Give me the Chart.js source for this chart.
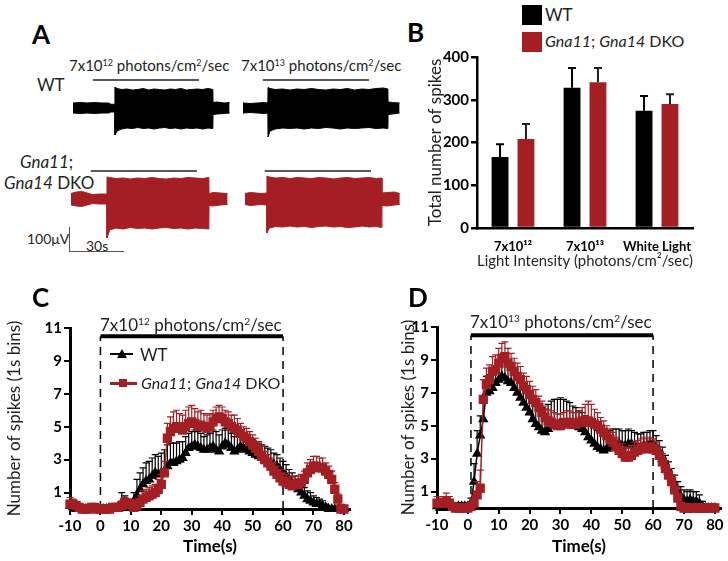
<!DOCTYPE html>
<html>
<head>
<meta charset="utf-8">
<script src="https://cdn.jsdelivr.net/npm/chart.js@4.4.0/dist/chart.umd.min.js"></script>
<style>
  html, body { margin: 0; padding: 0; background: #fff; }
  #fig { position: relative; width: 728px; height: 561px; overflow: hidden; font-family: Lato, 'Open Sans', sans-serif; color: #231f20; }
  #fig canvas { position: absolute; }
  .t { position: absolute; white-space: nowrap; line-height: 1; }
  .letter { font-weight: bold; font-size: 26px; color: #000; }
  sup { font-size: 0.6em; vertical-align: 0.6em; line-height: 0; }
  .box { position: absolute; }
</style>
</head>
<body>
<div id="fig">
  <!-- panel A -->
  <div class="t letter" style="left:32px;top:21px;">A</div>
  <div class="t" style="left:69px;top:58px;font-size:15px;">7x10<sup>12</sup> photons/cm<sup>2</sup>/sec</div>
  <div class="t" style="left:241px;top:58px;font-size:15px;">7x10<sup>13</sup> photons/cm<sup>2</sup>/sec</div>
  <div class="t" style="left:37px;top:76px;font-size:17px;">WT</div>
  <div class="t" style="left:20px;top:153px;font-size:17px;"><i>Gna11</i>;</div>
  <div class="t" style="left:4px;top:174px;font-size:17px;"><i>Gna14</i> DKO</div>
  <div class="t" style="left:27px;top:232px;font-size:14px;">100μV</div>
  <div class="t" style="left:86px;top:239px;font-size:14px;">30s</div>
  <div class="box" style="left:69px;top:227px;width:54px;height:24px;border-left:1.5px solid #555;border-bottom:1.5px solid #555;"></div>
  <canvas id="wt1" width="160" height="80" style="left:73px;top:74px;"></canvas>
  <canvas id="wt2" width="160" height="80" style="left:243px;top:74px;"></canvas>
  <canvas id="dko1" width="160" height="80" style="left:71px;top:165px;"></canvas>
  <canvas id="dko2" width="160" height="80" style="left:245px;top:165px;"></canvas>

  <!-- panel B -->
  <div class="t letter" style="left:407px;top:19px;">B</div>
  <div class="box" style="left:522px;top:5px;width:20px;height:20px;background:#000;"></div>
  <div class="box" style="left:522px;top:32px;width:20px;height:20px;background:#a31f24;"></div>
  <div class="t" style="left:545px;top:6px;font-size:17px;">WT</div>
  <div class="t" style="left:545px;top:33px;font-size:16px;"><i>Gna11</i>; <i>Gna14</i> DKO</div>
  <canvas id="chartB" width="308" height="270" style="left:420px;top:0px;"></canvas>

  <!-- panel C -->
  <canvas id="chartC" width="360" height="261" style="left:0px;top:300px;"></canvas>
  <div class="t letter" style="left:32px;top:284px;">C</div>
  <div class="t" style="left:100px;top:316px;font-size:17px;">7x10<sup>12</sup> photons/cm<sup>2</sup>/sec</div>
  <div class="box" style="left:110px;top:353px;width:23px;height:2px;background:#000;"></div>
  <div class="box" style="left:117px;top:349px;width:0;height:0;border-left:5px solid transparent;border-right:5px solid transparent;border-bottom:9px solid #000;"></div>
  <div class="t" style="left:140px;top:346px;font-size:17px;">WT</div>
  <div class="box" style="left:110px;top:382px;width:27px;height:2.5px;background:#a31f24;"></div>
  <div class="box" style="left:119px;top:379px;width:8px;height:8px;background:#a31f24;"></div>
  <div class="t" style="left:141px;top:375px;font-size:16px;"><i>Gna11</i>; <i>Gna14</i> DKO</div>

  <!-- panel D -->
  <canvas id="chartD" width="334" height="261" style="left:394px;top:300px;"></canvas>
  <div class="t letter" style="left:408px;top:284px;">D</div>
  <div class="t" style="left:470px;top:313px;font-size:17px;">7x10<sup>13</sup> photons/cm<sup>2</sup>/sec</div>
</div>

<script>
const RED = '#a31f24';
const INK = '#231f20';

// ---- panel A: recording envelopes (time in s from trace start, amplitude in µV) ----
const lightOn = 11;
const lightOff = 70;
const lightLevel = 112;

const wt1Time = [0, 4, 8, 12, 16, 20, 21, 23.2, 23.3, 24.5, 27, 30, 33, 36, 39, 42, 45, 48, 51, 54, 57, 60, 63, 66, 69, 72, 75, 77.7, 77.8, 80, 84, 87];
const wt1Top = [20, 22, 20, 22, 20, 20, 15, 15, 84, 78, 74, 76, 72, 74, 78, 72, 76, 74, 72, 76, 74, 78, 72, 74, 76, 74, 78, 74, 22, 24, 20, 22];
const wt1Bot = [-20, -22, -20, -22, -20, -20, -16, -16, -108, -92, -84, -80, -82, -78, -82, -80, -84, -80, -78, -82, -80, -84, -80, -82, -80, -84, -80, -82, -26, -24, -22, -20];

const wt2Time = [0, 4, 8, 12, 13.8, 13.9, 15, 18, 22, 26, 30, 34, 38, 42, 46, 50, 54, 58, 62, 66, 70, 74, 78, 80.5, 80.6, 83, 87];
const wt2Top = [20, 18, 20, 22, 20, 82, 78, 74, 76, 72, 76, 74, 78, 74, 72, 76, 74, 78, 72, 76, 74, 78, 80, 76, 24, 22, 20];
const wt2Bot = [-20, -18, -20, -22, -20, -116, -92, -84, -80, -82, -80, -84, -80, -82, -78, -80, -84, -80, -82, -80, -78, -82, -80, -82, -26, -24, -20];

const dko1Time = [0, 3, 6, 9, 12, 16, 19.9, 20, 21.5, 25, 29, 33, 37, 41, 45, 49, 53, 57, 61, 65, 69, 73, 76.6, 76.7, 79, 83, 87];
const dko1Top = [22, 28, 30, 24, 18, 20, 20, 88, 86, 82, 84, 80, 84, 82, 86, 82, 80, 84, 82, 86, 84, 82, 86, 22, 26, 24, 22];
const dko1Bot = [-24, -28, -30, -24, -18, -20, -20, -156, -124, -116, -120, -114, -118, -116, -120, -116, -114, -118, -116, -120, -116, -118, -120, -26, -28, -24, -22];

const dko2Time = [0, 3, 6, 9, 12.1, 12.2, 13.5, 17, 21, 25, 29, 33, 37, 41, 45, 49, 53, 57, 61, 65, 69, 73, 76, 76.1, 79, 83, 86];
const dko2Top = [22, 26, 24, 22, 24, 92, 88, 84, 86, 82, 86, 84, 82, 86, 84, 80, 84, 86, 82, 84, 86, 82, 84, 24, 26, 28, 22];
const dko2Bot = [-22, -26, -24, -22, -24, -136, -116, -110, -112, -108, -112, -110, -114, -110, -108, -112, -110, -114, -112, -108, -112, -110, -114, -26, -28, -24, -22];

// ---- panel B: total spikes ----
const intensityLabels = ['7x10¹²', '7x10¹³', 'White Light'];
const wtTotal = [166, 328, 274];
const wtTotalErr = [30, 46, 35];
const dkoTotal = [208, 341, 290];
const dkoTotalErr = [35, 33, 23];

// ---- panels C and D: spikes per 1s bin ----
const timeBins = [-10, -9, -8, -7, -6, -5, -4, -3, -2, -1,
  0, 1, 2, 3, 4, 5, 6, 7, 8, 9,
  10, 11, 12, 13, 14, 15, 16, 17, 18, 19,
  20, 21, 22, 23, 24, 25, 26, 27, 28, 29,
  30, 31, 32, 33, 34, 35, 36, 37, 38, 39,
  40, 41, 42, 43, 44, 45, 46, 47, 48, 49,
  50, 51, 52, 53, 54, 55, 56, 57, 58, 59,
  60, 61, 62, 63, 64, 65, 66, 67, 68, 69,
  70, 71, 72, 73, 74, 75, 76, 77, 78, 79, 80];
const timeTicks = [-10, 0, 10, 20, 30, 40, 50, 60, 70, 80];
const spikeTicks = [1, 3, 5, 7, 9, 11];

const wtC = [0.2, 0.1, 0, 0, 0, 0, 0, 0, 0, 0,
  0, 0, 0, 0, 0, 0, 0.1, 0.3, 0.3, 0.2,
  0.2, 0.5, 0.8, 1.2, 1.5, 1.7, 1.8, 2.0, 2.2, 2.1,
  2.2, 2.3, 2.6, 2.8, 2.8, 2.9, 3.0, 3.1, 3.4, 3.7,
  3.8, 3.9, 3.8, 3.7, 3.6, 3.6, 3.7, 3.8, 3.6, 3.5,
  3.8, 4.0, 3.9, 3.7, 3.5, 3.6, 3.8, 3.7, 3.6, 3.5,
  3.4, 3.3, 3.2, 3.1, 3.0, 2.9, 2.8, 2.7, 2.6, 2.4,
  2.2, 2.0, 1.8, 1.6, 1.4, 1.2, 1.0, 0.8, 0.6, 0.5,
  0.4, 0.3, 0.3, 0.2, 0.1, 0, 0, 0, 0, 0, 0];
const wtCErr = [0.3, 0.1, 0, 0, 0, 0, 0, 0, 0, 0,
  0, 0, 0, 0, 0, 0, 0.2, 0.7, 0.5, 0.2,
  0.2, 0.5, 1.0, 1.0, 1.0, 1.1, 1.1, 1.1, 1.1, 1.1,
  1.2, 1.3, 1.3, 1.2, 1.2, 1.1, 1.1, 1.0, 1.0, 0.9,
  0.9, 0.9, 0.9, 0.9, 0.8, 0.9, 0.9, 1.0, 1.1, 1.0,
  1.0, 0.9, 0.9, 0.9, 0.9, 0.9, 0.8, 0.8, 0.8, 0.8,
  0.8, 0.8, 0.8, 0.8, 0.8, 0.8, 0.8, 0.7, 0.7, 0.7,
  0.7, 0.7, 0.6, 0.6, 0.6, 0.6, 0.5, 0.5, 0.5, 0.5,
  0.4, 0.4, 0.3, 0.3, 0.2, 0.1, 0.1, 0, 0, 0, 0];
const dkoC = [0.3, 0.3, 0.2, 0.1, 0, 0, 0, 0.1, 0.1, 0,
  0, 0, 0, 0, 0.1, 0.1, 0.1, 0.2, 0.4, 0.3,
  0.3, 0.1, 0.2, 0.4, 0.6, 0.7, 0.8, 0.9, 1.0, 1.2,
  1.5, 2.2, 4.3, 4.7, 4.9, 5.0, 4.9, 4.8, 5.0, 5.2,
  5.3, 5.2, 5.0, 5.1, 5.0, 4.9, 5.0, 5.3, 5.5, 5.6,
  5.5, 5.3, 5.2, 5.0, 4.9, 4.8, 4.6, 4.4, 4.3, 4.1,
  3.9, 3.7, 3.5, 3.2, 3.0, 2.8, 2.6, 2.3, 2.1, 1.9,
  1.7, 1.6, 1.5, 1.4, 1.5, 1.5, 1.6, 1.8, 2.2, 2.4,
  2.6, 2.6, 2.5, 2.5, 2.3, 2.1, 1.8, 1.2, 0.6, 0, 0];
const dkoCErr = [0.4, 0.3, 0.2, 0.1, 0, 0, 0, 0.1, 0.1, 0,
  0, 0, 0, 0, 0.1, 0.1, 0.2, 0.3, 0.3, 0.3,
  0.3, 0.2, 0.3, 0.4, 0.5, 0.5, 0.5, 0.5, 0.5, 0.6,
  0.6, 0.7, 0.9, 0.9, 1.0, 1.0, 0.9, 0.9, 1.0, 1.0,
  1.0, 0.9, 0.9, 0.9, 0.8, 0.8, 0.8, 0.7, 0.7, 0.7,
  0.7, 0.7, 0.7, 0.7, 0.8, 0.7, 0.6, 0.6, 0.6, 0.6,
  0.6, 0.6, 0.6, 0.6, 0.5, 0.5, 0.5, 0.5, 0.5, 0.5,
  0.5, 0.5, 0.5, 0.5, 0.5, 0.5, 0.5, 0.5, 0.6, 0.6,
  0.6, 0.6, 0.6, 0.6, 0.5, 0.5, 0.5, 0.4, 0.3, 0, 0];

const wtD = [0.1, 0, 0, 0, 0, 0, 0, 0.1, 0.1, 0.1,
  0.1, 0.3, 1.6, 3.3, 4.4, 5.4, 7.0, 7.1, 7.3, 7.6,
  7.8, 8.0, 7.9, 7.7, 7.6, 7.3, 7.0, 6.7, 6.4, 6.1,
  5.8, 5.4, 5.1, 4.9, 4.7, 4.6, 4.8, 5.0, 5.1, 5.1,
  5.2, 5.2, 5.1, 5.1, 5.0, 5.0, 4.9, 4.8, 4.6, 4.3,
  4.1, 3.9, 3.7, 3.6, 3.5, 3.6, 3.7, 3.8, 3.8, 3.9,
  3.8, 3.8, 3.9, 3.9, 3.8, 3.7, 3.7, 3.8, 3.8, 3.9,
  3.9, 3.7, 3.4, 3.0, 2.6, 2.2, 1.8, 1.4, 1.0, 0.7,
  0.5, 0.4, 0.5, 0.4, 0.4, 0.3, 0.1, 0, 0, 0, 0];
const wtDErr = [0.1, 0, 0, 0, 0, 0, 0, 0.2, 0.2, 0.2,
  0.2, 0.3, 1.1, 1.4, 1.2, 1.2, 1.0, 1.0, 1.0, 1.0,
  1.0, 1.0, 1.0, 1.0, 1.0, 1.0, 1.1, 1.1, 1.1, 1.1,
  1.2, 1.2, 1.3, 1.3, 1.4, 1.4, 1.5, 1.5, 1.5, 1.5,
  1.5, 1.4, 1.4, 1.3, 1.2, 1.1, 1.0, 1.0, 1.0, 1.0,
  1.0, 1.0, 1.0, 1.0, 1.0, 1.0, 1.0, 1.0, 1.0, 0.9,
  0.9, 0.9, 0.9, 0.8, 0.8, 0.8, 0.8, 0.8, 0.8, 0.8,
  0.8, 0.7, 0.7, 0.7, 0.6, 0.6, 0.6, 0.6, 0.6, 0.6,
  0.6, 0.6, 0.6, 0.6, 0.6, 0.5, 0.3, 0, 0, 0, 0];
const dkoD = [0.3, 0.3, 0.3, 0.4, 0.3, 0.1, 0, 0, 0, 0,
  0, 0.1, 0.3, 0.8, 1.2, 6.6, 7.5, 7.8, 8.3, 8.4,
  8.8, 9.1, 9.2, 8.8, 8.6, 8.3, 8.0, 7.8, 7.4, 7.2,
  6.9, 6.6, 6.4, 6.1, 5.8, 5.5, 5.3, 5.2, 5.1, 5.0,
  5.0, 5.1, 5.2, 5.2, 5.1, 5.1, 5.2, 5.3, 5.2, 5.3,
  5.2, 5.1, 5.0, 4.8, 4.6, 4.4, 4.2, 4.0, 3.7, 3.5,
  3.3, 3.1, 3.1, 3.2, 3.4, 3.5, 3.6, 3.7, 3.6, 3.7,
  3.6, 3.5, 3.2, 2.8, 2.4, 2.0, 1.6, 1.1, 0.6, 0.1,
  0, 0, 0, 0, 0, 0, 0, 0, 0, 0, 0];
const dkoDErr = [0.4, 0.4, 0.4, 0.5, 0.4, 0.2, 0, 0, 0, 0,
  0, 0.1, 0.3, 0.8, 1.1, 1.2, 1.0, 0.9, 0.9, 0.9,
  0.9, 0.9, 0.9, 0.9, 0.8, 0.8, 0.8, 0.8, 0.8, 0.8,
  0.8, 0.8, 0.8, 0.7, 0.7, 0.7, 0.7, 0.7, 0.7, 0.7,
  0.7, 0.7, 0.7, 0.7, 0.7, 0.7, 0.7, 0.8, 1.1, 1.2,
  1.1, 0.9, 0.8, 0.7, 0.7, 0.6, 0.6, 0.6, 0.6, 0.6,
  0.6, 0.6, 0.6, 0.6, 0.6, 0.6, 0.6, 0.6, 0.6, 0.6,
  0.6, 0.5, 0.5, 0.5, 0.5, 0.4, 0.4, 0.4, 0.3, 0.2,
  0, 0, 0, 0, 0, 0, 0, 0, 0, 0, 0];

// stimulus windows (s) and the level of the stimulus bar
const stimC = [0, 60];
const stimD = [1, 60];
const stimLevel = 10.5;

Chart.defaults.font.family = "Lato, 'Open Sans', sans-serif";
Chart.defaults.color = INK;

// upward error bars with caps, drawn just under each dataset's marks
const errorBars = {
  id: 'errorBars',
  beforeDatasetDraw(chart, args) {
    const ds = chart.data.datasets[args.index];
    if (!ds.errors) return;
    const meta = args.meta;
    const yScale = chart.scales[meta.yAxisID];
    const ctx = chart.ctx;
    const cap = ds.errorCap || 3.5;
    ctx.save();
    ctx.strokeStyle = ds.errorColor || ds.borderColor;
    ctx.lineWidth = ds.errorWidth || 1.2;
    meta.data.forEach((el, i) => {
      const e = ds.errors[i];
      if (!e) return;
      const raw = ds.data[i];
      const v = typeof raw === 'object' ? raw.y : raw;
      const yTop = yScale.getPixelForValue(v + e);
      ctx.beginPath();
      ctx.moveTo(el.x, el.y);
      ctx.lineTo(el.x, yTop);
      ctx.moveTo(el.x - cap, yTop);
      ctx.lineTo(el.x + cap, yTop);
      ctx.stroke();
    });
    ctx.restore();
  }
};

function traceChart(id, times, top, bot, color) {
  new Chart(document.getElementById(id), {
    type: 'line',
    data: {
      datasets: [
        { data: times.map((t, i) => ({ x: t, y: top[i] })), borderColor: color, backgroundColor: color, borderWidth: 1, pointRadius: 0, fill: '+1' },
        { data: times.map((t, i) => ({ x: t, y: bot[i] })), borderColor: color, borderWidth: 1, pointRadius: 0, fill: false },
        { data: [{ x: lightOn, y: lightLevel }, { x: lightOff, y: lightLevel }], borderColor: INK, borderWidth: 1.5, pointRadius: 0, fill: false }
      ]
    },
    options: {
      responsive: false,
      animation: false,
      layout: { padding: 0 },
      plugins: { legend: { display: false }, tooltip: { enabled: false } },
      scales: {
        x: { type: 'linear', display: false, min: 0, max: 88.9 },
        y: { display: false, min: -184, max: 136 }
      }
    }
  });
}

traceChart('wt1', wt1Time, wt1Top, wt1Bot, '#000');
traceChart('wt2', wt2Time, wt2Top, wt2Bot, '#000');
traceChart('dko1', dko1Time, dko1Top, dko1Bot, RED);
traceChart('dko2', dko2Time, dko2Top, dko2Bot, RED);

new Chart(document.getElementById('chartB'), {
  type: 'bar',
  data: {
    labels: intensityLabels,
    datasets: [
      { label: 'WT', data: wtTotal, errors: wtTotalErr, backgroundColor: '#000', errorColor: '#000', errorWidth: 2, errorCap: 4 },
      { label: 'Gna11; Gna14 DKO', data: dkoTotal, errors: dkoTotalErr, backgroundColor: RED, errorColor: INK, errorWidth: 2, errorCap: 4 }
    ]
  },
  options: {
    responsive: false,
    animation: false,
    layout: { padding: { top: 57, left: 3, right: 35, bottom: 0 } },
    datasets: { bar: { categoryPercentage: 0.72, barPercentage: 0.65 } },
    plugins: { legend: { display: false }, tooltip: { enabled: false } },
    scales: {
      x: {
        grid: { display: false },
        border: { display: true, color: '#000', width: 2.5 },
        ticks: { color: '#000', font: { weight: 'bold', size: 13 }, padding: 3, autoSkip: false, maxRotation: 0, minRotation: 0 },
        title: { display: true, text: 'Light Intensity (photons/cm²/sec)', font: { size: 16 }, color: INK, padding: { top: 0, bottom: 0 } },
        afterFit: s => { s.height = 42; }
      },
      y: {
        min: 0, max: 400,
        ticks: { stepSize: 100, color: '#000', font: { weight: 'bold', size: 15 }, padding: 2 },
        grid: { drawOnChartArea: false, tickLength: 6, color: '#000', lineWidth: 2.5 },
        border: { color: '#000', width: 2.5 },
        title: { display: true, text: 'Total number of spikes', font: { size: 17 }, color: INK, padding: { top: 2, bottom: 0 } },
        afterFit: s => { s.width = 54; }
      }
    }
  },
  plugins: [errorBars]
});

function timeChart(id, wt, wtErr, dko, dkoErr, stim, pad, yWidth, xHeight) {
  new Chart(document.getElementById(id), {
    type: 'line',
    data: {
      datasets: [
        { label: 'Gna11; Gna14 DKO', order: 1, data: timeBins.map((t, i) => ({ x: t, y: dko[i] })), errors: dkoErr,
          borderColor: RED, backgroundColor: RED, borderWidth: 1.5, pointStyle: 'rect', pointRadius: 5.5, errorColor: RED, clip: false },
        { label: 'WT', order: 2, data: timeBins.map((t, i) => ({ x: t, y: wt[i] })), errors: wtErr,
          borderColor: '#000', backgroundColor: '#000', borderWidth: 1.5, pointStyle: 'triangle', pointRadius: 4.5, errorColor: '#000', clip: false },
        { order: 3, data: [{ x: stim[0], y: stimLevel }, { x: stim[1], y: stimLevel }], borderColor: '#000', borderWidth: 4, pointRadius: 0, clip: false },
        { order: 3, data: [{ x: stim[0], y: 0 }, { x: stim[0], y: stimLevel }], borderColor: '#000', borderWidth: 1.5, borderDash: [8, 6], pointRadius: 0 },
        { order: 3, data: [{ x: stim[1], y: 0 }, { x: stim[1], y: stimLevel }], borderColor: '#000', borderWidth: 1.5, borderDash: [8, 6], pointRadius: 0 }
      ]
    },
    options: {
      responsive: false,
      animation: false,
      layout: { padding: pad },
      plugins: { legend: { display: false }, tooltip: { enabled: false } },
      scales: {
        x: {
          type: 'linear', min: -10, max: 82,
          afterBuildTicks: s => { s.ticks = timeTicks.map(v => ({ value: v })); },
          ticks: { color: '#000', font: { weight: 'bold', size: 15 }, padding: 2, autoSkip: false, maxRotation: 0 },
          grid: { drawOnChartArea: false, tickLength: 6, color: '#000', lineWidth: 2 },
          border: { color: '#000', width: 3 },
          title: { display: true, text: 'Time(s)', font: { weight: 'bold', size: 17 }, color: '#000', padding: { top: 0, bottom: 4 } },
          afterFit: s => { s.height = xHeight; }
        },
        y: {
          min: 0, max: 11,
          afterBuildTicks: s => { s.ticks = spikeTicks.map(v => ({ value: v })); },
          ticks: { color: '#000', font: { weight: 'bold', size: 15 }, padding: 2 },
          grid: { drawOnChartArea: false, tickLength: 6, color: '#000', lineWidth: 2 },
          border: { color: '#000', width: 3 },
          title: { display: true, text: 'Number of spikes (1s bins)', font: { size: 17 }, color: INK, padding: { top: 2, bottom: 0 } },
          afterFit: s => { s.width = yWidth; }
        }
      }
    },
    plugins: [errorBars]
  });
}

timeChart('chartC', wtC, wtCErr, dkoC, dkoCErr, stimC, { top: 28, left: 2, right: 10, bottom: 0 }, 68, 52);
timeChart('chartD', wtD, wtDErr, dkoD, dkoDErr, stimD, { top: 27, left: 2, right: 6, bottom: 0 }, 41, 53);
</script>
</body>
</html>
